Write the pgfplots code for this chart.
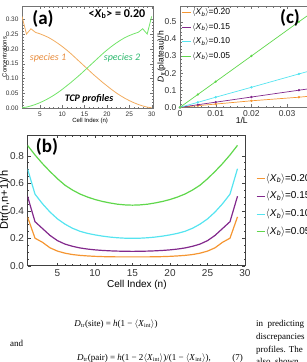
\documentclass[border=0pt]{standalone}
\usepackage{fontspec}
\setmainfont{Liberation Sans}
\newfontfamily\calibri{Carlito}
\newfontfamily\bodyserif{Liberation Serif}
\usepackage{pgfplots}
\pgfplotsset{compat=1.18}

\definecolor{aorange}{RGB}{242,172,95}
\definecolor{agreen}{RGB}{115,228,105}
\definecolor{lblorange}{RGB}{232,140,60}
\definecolor{lblgreen}{RGB}{45,185,110}
\definecolor{corange}{RGB}{245,150,50}
\definecolor{cpurple}{RGB}{130,40,140}
\definecolor{ccyan}{RGB}{85,228,240}
\definecolor{cgreen}{RGB}{95,215,75}

\pgfplotsset{
  mframe/.style={
    scale only axis,
    axis line style={black!55},
    tick align=inside,
    tick style={black!55},
    major tick length=3pt,
    minor tick length=1.5pt,
    /pgf/number format/assume math mode=true,
    tick label style={black!80},
  },
}

% concentration profiles of the two species, <X_b> = 0.20
\pgfplotstableread{
n s1 s2
1 0.310 0.001
2 0.250 0.003
3 0.268 0.007
4 0.256 0.012
5 0.251 0.018
6 0.245 0.025
7 0.238 0.033
8 0.229 0.042
9 0.219 0.052
10 0.208 0.063
11 0.196 0.075
12 0.183 0.087
13 0.169 0.100
14 0.155 0.113
15 0.141 0.127
16 0.127 0.141
17 0.113 0.155
18 0.100 0.169
19 0.087 0.183
20 0.075 0.196
21 0.063 0.208
22 0.052 0.219
23 0.042 0.229
24 0.033 0.238
25 0.025 0.245
26 0.018 0.251
27 0.012 0.256
28 0.007 0.268
29 0.003 0.250
30 0.001 0.310
}\profiles

% transport coefficient between neighbouring cells
\pgfplotstableread{
n x20 x15 x10 x05
1 0.355 0.505 0.705 0.875
2 0.200 0.320 0.520 0.805
3 0.170 0.270 0.450 0.742
4 0.130 0.220 0.390 0.685
5 0.106 0.182 0.340 0.632
6 0.091 0.157 0.302 0.585
7 0.081 0.141 0.272 0.550
8 0.075 0.129 0.250 0.521
9 0.071 0.121 0.235 0.499
10 0.068 0.115 0.224 0.481
11 0.066 0.111 0.215 0.467
12 0.065 0.108 0.208 0.456
13 0.064 0.106 0.203 0.447
14 0.064 0.105 0.200 0.442
15 0.064 0.104 0.199 0.440
16 0.064 0.105 0.200 0.442
17 0.064 0.106 0.203 0.447
18 0.065 0.108 0.208 0.456
19 0.066 0.111 0.215 0.467
20 0.068 0.115 0.224 0.481
21 0.071 0.121 0.235 0.499
22 0.075 0.129 0.250 0.521
23 0.081 0.141 0.272 0.550
24 0.091 0.157 0.302 0.585
25 0.106 0.182 0.340 0.632
26 0.130 0.220 0.390 0.685
27 0.170 0.270 0.450 0.742
28 0.200 0.320 0.520 0.805
29 0.355 0.505 0.705 0.875
}\transport

% plateau value against inverse chain length
\pgfplotstableread{
invL x20 x15 x10 x05
0 0 0 0 0
0.005 0.0095 0.015 0.029 0.075
0.01 0.019 0.030 0.059 0.150
0.02 0.038 0.060 0.117 0.300
0.0333 0.0590 0.100 0.195 0.500
0.0364 0.0650 0.109 0.213 0.546
}\plateau

\begin{document}
\begin{tikzpicture}

% ---------------- (a) ----------------
\begin{axis}[mframe,
  at={(22pt,-6pt)}, anchor=north west,
  width=131pt, height=102pt,
  xmin=1, xmax=30.3, ymin=0, ymax=0.345,
  xtick={5,10,...,30},
  ytick={0,0.05,0.10,0.15,0.20,0.25,0.30},
  minor x tick num=4, minor y tick num=4,
  yticklabel style={/pgf/number format/.cd, fixed, fixed zerofill, precision=2},
  tick label style={font=\fontsize{6.5}{7}\selectfont},
  label style={font=\fontsize{6}{7}\selectfont},
  xlabel={Cell Index (n)},
  ylabel={Concentrations},
  xlabel style={at={(axis description cs:0.52,-0.125)}, anchor=center},
  ylabel style={at={(axis description cs:-0.134,0.5)}, anchor=center},
]
\addplot[aorange, line width=0.8pt] table[x=n, y=s1] {\profiles};
\addplot[agreen, line width=0.8pt] table[x=n, y=s2] {\profiles};
\end{axis}
\node[font=\calibri\bfseries\fontsize{19}{20}\selectfont] at (43pt,-19pt) {(a)};
\node[font=\calibri\bfseries\fontsize{12}{13}\selectfont] at (117pt,-14pt) {<\textit{X}\textsubscript{b}> = 0.20};
\node[font=\calibri\itshape\fontsize{10}{11}\selectfont, text=lblorange] at (48pt,-58pt) {species 1};
\node[font=\calibri\itshape\fontsize{10}{11}\selectfont, text=lblgreen] at (122pt,-58pt) {species 2};
\node[font=\calibri\bfseries\itshape\fontsize{10}{11}\selectfont] at (89pt,-99pt) {TCP profiles};

% ---------------- (c) ----------------
\begin{axis}[mframe,
  at={(180pt,-6pt)}, anchor=north west,
  width=130pt, height=101.3pt,
  xmin=0, xmax=0.0364, ymin=0, ymax=0.592,
  scaled x ticks=false,
  xtick={0,0.01,0.02,0.03}, xticklabels={0,0.01,0.02,0.03},
  ytick={0,0.1,0.2,0.3,0.4,0.5},
  minor x tick num=4, minor y tick num=4,
  yticklabel style={/pgf/number format/.cd, fixed, fixed zerofill, precision=1},
  tick label style={font=\fontsize{8.5}{9}\selectfont},
  label style={font=\fontsize{8.5}{9}\selectfont},
  xlabel={1/L},
  ylabel={\textit{D}\textsubscript{tr}(plateau)/h},
  xlabel style={at={(axis description cs:0.475,-0.132)}, anchor=center},
  ylabel style={at={(axis description cs:-0.142,0.5)}, anchor=center},
  legend style={at={(0.01,0.985)}, anchor=north west, draw=none, fill=none,
    font=\fontsize{8.5}{9}\selectfont, inner sep=0pt,
    nodes={inner sep=1pt, text height=6pt, text depth=2pt}, row sep=4.5pt},
  legend cell align=left,
  legend image code/.code={\draw[#1, line width=0.8pt] (0pt,0pt) -- (9pt,0pt);},
  mark size=0.8pt,
]
\addplot[corange, line width=0.7pt, mark=*, mark indices={1,2,3,4,5}] table[x=invL, y=x20] {\plateau};
\addlegendentry{$\langle$\textit{X}\textsubscript{\textit{b}}$\rangle$=0.20}
\addplot[cpurple, line width=0.7pt, mark=*, mark indices={1,2,3,4,5}] table[x=invL, y=x15] {\plateau};
\addlegendentry{$\langle$\textit{X}\textsubscript{\textit{b}}$\rangle$=0.15}
\addplot[ccyan, line width=0.7pt, mark=*, mark indices={1,2,3,4,5}] table[x=invL, y=x10] {\plateau};
\addlegendentry{$\langle$\textit{X}\textsubscript{\textit{b}}$\rangle$=0.10}
\addplot[cgreen, line width=0.7pt, mark=*, mark indices={1,2,3,4,5}] table[x=invL, y=x05] {\plateau};
\addlegendentry{$\langle$\textit{X}\textsubscript{\textit{b}}$\rangle$=0.05}
\end{axis}
\node[font=\calibri\bfseries\fontsize{19}{20}\selectfont] at (290pt,-18pt) {(c)};

% ---------------- (b) ----------------
\begin{axis}[mframe,
  axis line style={black!75}, tick style={black!75},
  at={(27.5pt,-135pt)}, anchor=north west,
  width=217.5pt, height=130.7pt,
  xmin=1, xmax=30, ymin=0, ymax=0.95,
  xtick={5,10,...,30},
  ytick={0,0.2,0.4,0.6,0.8},
  minor x tick num=4, minor y tick num=3,
  yticklabel style={/pgf/number format/.cd, fixed, fixed zerofill, precision=1},
  tick label style={font=\fontsize{10}{11}\selectfont},
  xlabel={Cell Index (n)},
  ylabel={Dtr(n,n+1)/h},
  xlabel style={font=\fontsize{10}{11}\selectfont, at={(axis description cs:0.503,-0.148)}, anchor=center},
  ylabel style={font=\fontsize{11}{12}\selectfont, at={(axis description cs:-0.103,0.5)}, anchor=center},
  legend style={at={(1.05,0.712)}, anchor=north west, draw=none, fill=none,
    font=\fontsize{10}{11}\selectfont, inner sep=0pt,
    nodes={inner sep=1pt, text height=7.5pt, text depth=2.5pt}, row sep=5.6pt},
  legend cell align=left,
  legend image code/.code={\draw[#1, line width=0.9pt] (0pt,0pt) -- (8pt,0pt);},
]
\addplot[corange, line width=1.2pt] table[x=n, y=x20] {\transport};
\addlegendentry{$\langle$\textit{X}\textsubscript{\textit{b}}$\rangle$=0.20}
\addplot[cpurple, line width=1.2pt] table[x=n, y=x15] {\transport};
\addlegendentry{$\langle$\textit{X}\textsubscript{\textit{b}}$\rangle$=0.15}
\addplot[ccyan, line width=1.2pt] table[x=n, y=x10] {\transport};
\addlegendentry{$\langle$\textit{X}\textsubscript{\textit{b}}$\rangle$=0.10}
\addplot[cgreen, line width=1.2pt] table[x=n, y=x05] {\transport};
\addlegendentry{$\langle$\textit{X}\textsubscript{\textit{b}}$\rangle$=0.05}
\end{axis}
\node[font=\calibri\bfseries\fontsize{19}{20}\selectfont] at (47pt,-147pt) {(b)};

% ---------------- running text below the figure ----------------
\begin{scope}[every node/.style={font=\bodyserif\fontsize{9}{10}\selectfont, inner sep=0pt}]
\node[anchor=base] at (116pt,-326pt) {\textit{D}\textsubscript{tr}(site) = \textit{h}(1 − $\langle$\textit{X}\textsubscript{int}$\rangle$)};
\node[anchor=base west] at (10pt,-346pt) {and};
\node[anchor=base west] at (77pt,-360pt) {\textit{D}\textsubscript{tr}(pair) = \textit{h}(1 − 2$\langle$\textit{X}\textsubscript{int}$\rangle$)/(1 − $\langle$\textit{X}\textsubscript{int}$\rangle$),};
\node[anchor=base east] at (243pt,-360pt) {(7)};
\node[anchor=base west] at (256pt,-326.7pt) {in\ \ predicting};
\node[anchor=base west] at (256pt,-339.3pt) {discrepancies};
\node[anchor=base west] at (256pt,-352pt) {profiles. The};
\node[anchor=base west] at (256pt,-364.5pt) {also\ \ shown};
\end{scope}

\pgfresetboundingbox
\useasboundingbox (0pt,0pt) rectangle (307pt,-362pt);
\end{tikzpicture}
\end{document}
